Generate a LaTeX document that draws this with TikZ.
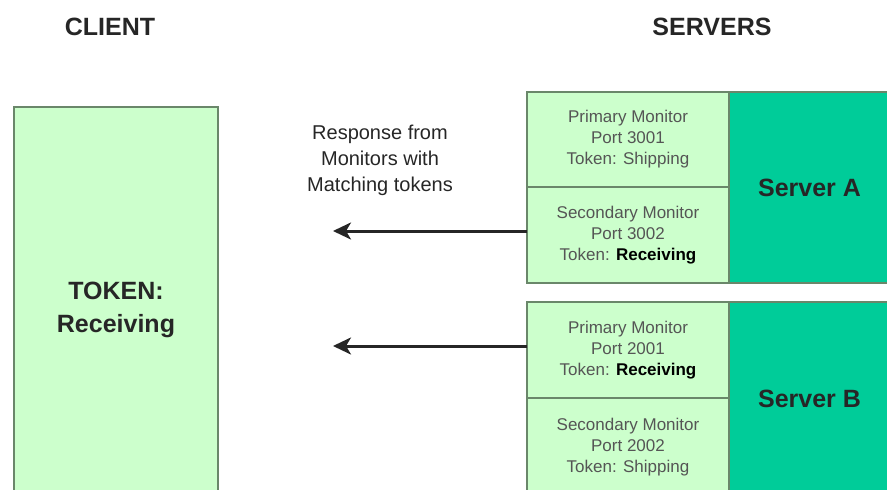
\documentclass[tikz,border=0pt]{standalone}
\usepackage{fontspec}
\setmainfont{Liberation Sans}
\usetikzlibrary{arrows.meta}
\definecolor{lightgr}{HTML}{CCFFCC}
\definecolor{darkgr}{HTML}{00CC99}
\definecolor{edgegr}{HTML}{6A876A}
\definecolor{montext}{HTML}{555555}
\tikzset{
  box/.style={draw=edgegr, line width=1.5pt, inner sep=0pt, outer sep=0pt,
    align=center, anchor=north west},
  monitor/.style={box, fill=lightgr, minimum width=202pt,
    font=\fontsize{17}{21}\selectfont, text=montext},
  server/.style={box, fill=darkgr, minimum width=161pt,
    font=\bfseries\fontsize{25}{30}\selectfont, text=black!85},
  heading/.style={font=\bfseries\fontsize{25}{30}\selectfont, text=black!85},
  note/.style={font=\fontsize{20}{26}\selectfont, align=center, text=black!85},
  reply/.style={-{Stealth[length=18pt,width=17pt,inset=5pt]},
    line width=3pt, draw=black!85},
}
\newcommand{\hit}[1]{\textcolor{black}{\textbf{#1}}}
\begin{document}
\begin{tikzpicture}[x=1pt,y=-1pt]
  \useasboundingbox (0,0) rectangle (887,490);
  \clip (0,0) rectangle (887,490);

  % column headings
  \node[heading] (clienthead) at (110,27) {CLIENT};
  \node[heading] (serverhead) at (712,27) {SERVERS};

  % client
  \node[box, fill=lightgr, minimum width=204pt, minimum height=405pt,
        font=\bfseries\fontsize{25}{33}\selectfont, text=black!85]
        (client) at (14,107) {TOKEN:\\Receiving};

  % server A and its monitors
  \node[monitor, minimum height=95pt] (pA1) at (527,92)
        {Primary Monitor\\Port 3001\\Token: Shipping};
  \node[monitor, minimum height=96pt] (pA2) at (527,187)
        {Secondary Monitor\\Port 3002\\Token: \hit{Receiving}};
  \node[server, minimum height=191pt] (srvA) at (729,92) {Server A};

  % server B and its monitors
  \node[monitor, minimum height=96pt] (pB1) at (527,302)
        {Primary Monitor\\Port 2001\\Token: \hit{Receiving}};
  \node[monitor, minimum height=98pt] (pB2) at (527,398)
        {Secondary Monitor\\Port 2002\\Token: Shipping};
  \node[server, minimum height=194pt] (srvB) at (729,302) {Server B};

  % responses
  \node[note] (resp) at (380,160) {Response from\\Monitors with\\Matching tokens};
  \coordinate (tipA) at (333,231);
  \coordinate (tipB) at (333,346);
  \draw[reply] (pA2.west |- tipA) -- (tipA);
  \draw[reply] (pB1.west |- tipB) -- (tipB);
\end{tikzpicture}
\end{document}
